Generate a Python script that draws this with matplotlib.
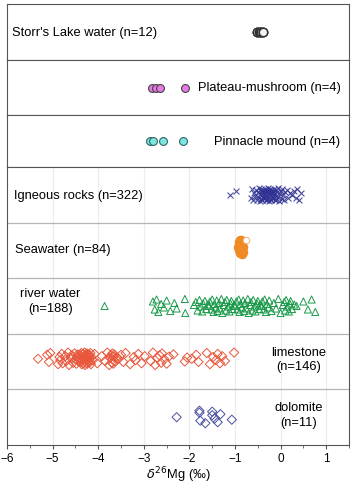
import matplotlib
matplotlib.use('Agg')
import matplotlib.pyplot as plt
from matplotlib.ticker import MultipleLocator

plt.rcParams['font.family'] = ['Liberation Sans', 'DejaVu Sans']

# delta26Mg values (permil)
storrs_lake = [-0.52, -0.52, -0.51, -0.47, -0.47, -0.46, -0.43, -0.43, -0.42, -0.39, -0.39, -0.38]
plateau_mushroom = [-2.83, -2.73, -2.64, -2.1]
pinnacle_mound = [-2.87, -2.8, -2.57, -2.15]

igneous = [-1.1, -0.97, -0.66, -0.63, -0.6, -0.58, -0.56, -0.54, -0.52, -0.5, -0.49, -0.48,
           -0.46, -0.45, -0.44, -0.43, -0.42, -0.41, -0.4, -0.4, -0.39, -0.38, -0.37, -0.36,
           -0.35, -0.35, -0.34, -0.33, -0.32, -0.31, -0.3, -0.3, -0.29, -0.28, -0.27, -0.26,
           -0.25, -0.25, -0.24, -0.23, -0.22, -0.21, -0.2, -0.2, -0.19, -0.18, -0.17, -0.16,
           -0.15, -0.14, -0.13, -0.12, -0.11, -0.1, -0.09, -0.08, -0.06, -0.05, -0.03, -0.02,
           0.0, 0.02, 0.04, 0.06, 0.08, 0.1, 0.13, 0.16, 0.2, 0.24, 0.3, 0.33, 0.36, 0.4, 0.45]
seawater = [-0.93, -0.92, -0.91, -0.9, -0.9, -0.89, -0.88, -0.88, -0.87, -0.87, -0.86,
            -0.86, -0.85, -0.85, -0.85, -0.84, -0.84, -0.83, -0.83]
river = [-3.86, -2.8, -2.76, -2.72, -2.68, -2.62, -2.56, -2.5, -2.42, -2.33, -2.28, -2.1, -2.09,
         -1.9, -1.86, -1.82, -1.78, -1.75, -1.72, -1.7, -1.66, -1.63, -1.6, -1.57, -1.55, -1.52,
         -1.5, -1.47, -1.45, -1.42, -1.4, -1.38, -1.35, -1.33, -1.3, -1.28, -1.25, -1.22, -1.2,
         -1.18, -1.15, -1.12, -1.1, -1.08, -1.05, -1.02, -1.0, -0.97, -0.95, -0.92, -0.9, -0.88,
         -0.85, -0.82, -0.8, -0.78, -0.75, -0.72, -0.7, -0.67, -0.65, -0.62, -0.6, -0.57, -0.55,
         -0.52, -0.5, -0.47, -0.45, -0.42, -0.4, -0.37, -0.35, -0.32, -0.3, -0.27, -0.25, -0.2,
         -0.15, -0.1, -0.05, 0.0, 0.05, 0.08, 0.1, 0.12, 0.15, 0.18, 0.2, 0.22, 0.25, 0.3, 0.35,
         0.5, 0.6, 0.68, 0.76]
limestone = [-5.32, -5.12, -5.08, -5.05, -4.88, -4.85, -4.83, -4.8, -4.78, -4.72, -4.7, -4.66,
             -4.64, -4.6, -4.58, -4.55, -4.52, -4.5, -4.48, -4.46, -4.45, -4.43, -4.42, -4.4,
             -4.4, -4.38, -4.37, -4.36, -4.35, -4.34, -4.33, -4.32, -4.31, -4.3, -4.3, -4.29,
             -4.28, -4.27, -4.26, -4.25, -4.25, -4.24, -4.23, -4.22, -4.21, -4.2, -4.2, -4.19,
             -4.18, -4.17, -4.16, -4.15, -4.12, -4.08, -4.02, -3.92, -3.85, -3.8, -3.76, -3.74,
             -3.72, -3.7, -3.69, -3.68, -3.67, -3.66, -3.65, -3.63, -3.6, -3.55, -3.5, -3.45,
             -3.4, -3.3, -3.22, -3.18, -3.12, -3.05, -2.98, -2.85, -2.8, -2.75, -2.7, -2.66,
             -2.62, -2.6, -2.55, -2.5, -2.45, -2.35, -2.1, -2.05, -1.95, -1.85, -1.8, -1.62,
             -1.55, -1.48, -1.42, -1.38, -1.33, -1.28, -1.22, -1.02]
dolomite = [-2.28, -1.78, -1.76, -1.78, -1.65, -1.5, -1.45, -1.5, -1.38, -1.32, -1.07]

# fixed vertical scatter pattern inside a row (drawing only)
JIT = [0.0, 0.09, -0.07, 0.13, -0.12, 0.04, -0.03, 0.11, -0.1, 0.06, -0.05, 0.14, -0.14,
       0.02, 0.08, -0.09, 0.12, -0.01, -0.11, 0.05, 0.1, -0.06, 0.03]


def rowy(vals, center, scale=1.0):
    return [center + scale * JIT[i % len(JIT)] for i in range(len(vals))]


fig = plt.figure(figsize=(3.55, 4.89), dpi=100)
H = 489.0
L, W = 7 / 355, 342 / 355
XLIM = (-6, 1.5)
SPINE = '#555555'
FS = 9.3


def box(top, bottom):
    ax = fig.add_axes([L, 1 - bottom / H, W, (bottom - top) / H])
    ax.set_xlim(*XLIM)
    ax.set_ylim(0, 1)
    ax.set_xticks([])
    ax.set_yticks([])
    for s in ax.spines.values():
        s.set_color(SPINE)
    return ax


ax1 = box(5, 61)
ax1.scatter(storrs_lake, [0.5] * len(storrs_lake), s=36, marker='o',
            facecolor='#f4f4f4', edgecolor='#333333', linewidth=1.0)
ax1.text(0.015, 0.5, "Storr's Lake water (n=12)", transform=ax1.transAxes,
         va='center', ha='left', fontsize=FS)

ax2 = box(61, 116)
ax2.scatter(plateau_mushroom, [0.5] * 4, s=32, marker='o',
            facecolor='#e67ae6', edgecolor='#444444', linewidth=0.8)
ax2.text(0.975, 0.5, "Plateau-mushroom (n=4)", transform=ax2.transAxes,
         va='center', ha='right', fontsize=FS)

ax3 = box(116, 168)
ax3.scatter(pinnacle_mound, [0.5] * 4, s=32, marker='o',
            facecolor='#7ee6e0', edgecolor='#336666', linewidth=0.8)
ax3.text(0.975, 0.5, "Pinnacle mound (n=4)", transform=ax3.transAxes,
         va='center', ha='right', fontsize=FS)

ax = fig.add_axes([L, 1 - 446 / H, W, 278 / H])
ax.set_xlim(*XLIM)
ax.set_ylim(0, 5)
for s in ax.spines.values():
    s.set_color(SPINE)
ax.set_yticks([])
ax.xaxis.set_major_locator(MultipleLocator(1))
ax.xaxis.set_minor_locator(MultipleLocator(0.5))
ax.tick_params(axis='x', direction='out', labelsize=8.5, color=SPINE, length=3, pad=2)
ax.tick_params(axis='x', which='minor', length=2, color=SPINE)
for gx in range(-5, 2):
    ax.axvline(gx, color='#ececec', lw=0.8, zorder=0)
for gy in range(1, 5):
    ax.axhline(gy, color='#b5b5b5', lw=0.9, zorder=1)

ax.scatter(igneous, rowy(igneous, 4.5, 0.85), marker='x', s=18, color='#2e3192',
           linewidth=0.8, alpha=0.85, zorder=3)
ax.scatter(seawater, rowy(seawater, 3.57, 0.9), marker='o', s=34, color='#f08a24',
           edgecolor='#f08a24', zorder=3)
ax.scatter([-0.76], [3.68], marker='o', s=22, facecolor='white', edgecolor='#f3b070',
           linewidth=0.7, zorder=3)
ax.scatter(river, rowy(river, 2.5, 0.9), marker='^', s=26, facecolor='none',
           edgecolor='#1a9a4a', linewidth=0.7, zorder=3)
ax.scatter(limestone, rowy(limestone, 1.55, 0.8), marker='D', s=22, facecolor='none',
           edgecolor='#e8573c', linewidth=0.7, zorder=3)
ax.scatter(dolomite, rowy(dolomite, 0.5, 0.9), marker='D', s=22, facecolor='none',
           edgecolor='#4a50a0', linewidth=0.7, zorder=3)

ax.text(-5.85, 4.5, "Igneous rocks (n=322)", va='center', ha='left', fontsize=FS)
ax.text(-5.83, 3.53, "Seawater (n=84)", va='center', ha='left', fontsize=FS)
ax.text(-5.05, 2.6, "river water\n(n=188)", va='center', ha='center', fontsize=FS,
        linespacing=1.25)
ax.text(0.4, 1.55, "limestone\n(n=146)", va='center', ha='center', fontsize=FS,
        linespacing=1.25)
ax.text(0.4, 0.55, "dolomite\n(n=11)", va='center', ha='center', fontsize=FS,
        linespacing=1.25)
ax.set_xlabel('$\\delta^{26}$Mg (‰)', fontsize=FS, labelpad=0)

fig.savefig('out.png', dpi=100)
